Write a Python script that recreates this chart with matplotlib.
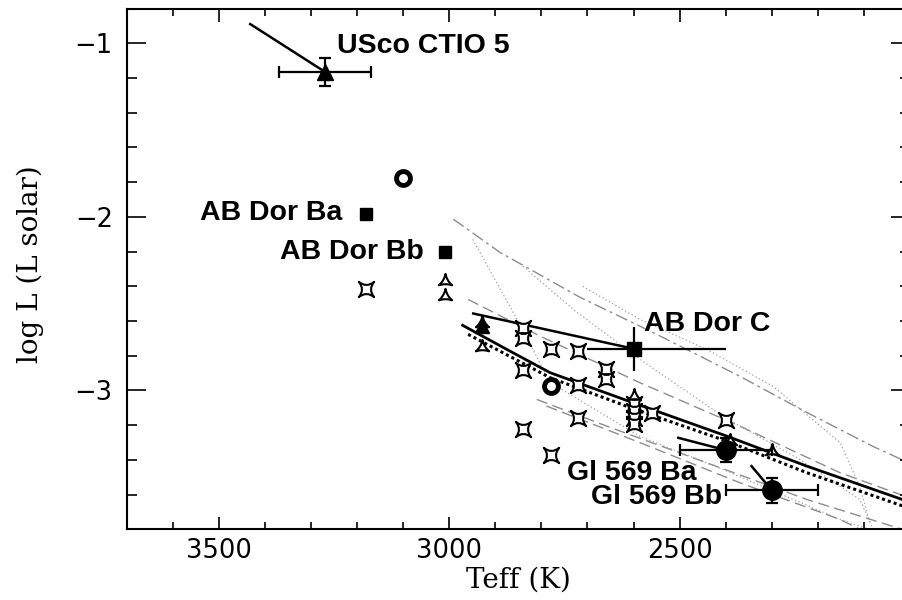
import numpy as np
import matplotlib
matplotlib.use('Agg')
import matplotlib.pyplot as plt
from matplotlib.path import Path
from matplotlib.ticker import MultipleLocator, FixedLocator

# --- objects with error bars (Teff in K, log L in solar units) ---
usco_teff = [3270]
usco_logl = [-1.165]
usco_from = [3432, -0.89]

abdor_b_teff = [3180, 3010]
abdor_b_logl = [-1.986, -2.205]

abdor_c_teff = [2600]
abdor_c_logl = [-2.76]
abdor_c_xerr = [[200], [100]]
abdor_c_yerr = [0.128]
abdor_c_from = [2948, -2.557]

gl569_teff = [2400, 2300]
gl569_logl = [-3.344, -3.575]
gl569_yerr = [0.068, 0.072]
gl569a_from = [2503, -3.273]
gl569b_from = [2344, -3.436]

# --- comparison objects ---
star_teff = [3180, 2840, 2840, 2840, 2840, 2780, 2780, 2720, 2720, 2720,
             2660, 2660, 2600, 2600, 2600, 2600, 2560, 2400]
star_logl = [-2.418, -2.639, -2.696, -2.883, -3.225, -2.764, -3.373, -2.774, -2.969, -3.157,
             -2.875, -2.937, -3.081, -3.119, -3.157, -3.196, -3.129, -3.17]

delt_teff = [3010, 3010, 2930, 2930, 2600, 2390, 2300]
delt_logl = [-2.372, -2.457, -2.61, -2.75, -3.033, -3.292, -3.35]

ring_teff = [3100, 2780]
ring_logl = [-1.774, -2.975]

tri_teff = [2930]
tri_logl = [-2.63]

# --- model tracks ---
solid_teff = [2971, 2875, 2781, 2601, 2398, 2224, 2017, 2000]
solid_logl = [-2.625, -2.764, -2.898, -3.071, -3.263, -3.436, -3.628, -3.642]
bdot_teff = [2959, 2781, 2601, 2398, 2224, 2000]
bdot_logl = [-2.677, -2.927, -3.105, -3.292, -3.474, -3.68]

dashdot_teff = [2991, 2890, 2716, 2558, 2369, 2224, 2080, 2000]
dashdot_logl = [-2.014, -2.205, -2.464, -2.666, -2.919, -3.127, -3.323, -3.42]
dash1_teff = [2959, 2803, 2586, 2369, 2152, 2000]
dash1_logl = [-2.476, -2.687, -2.956, -3.206, -3.474, -3.62]
dash2_teff = [2810, 2658, 2441, 2224, 2017]
dash2_logl = [-3.052, -3.206, -3.417, -3.628, -3.80]
dash3_teff = [2789, 2586, 2369, 2152, 2109]
dash3_logl = [-3.090, -3.301, -3.532, -3.743, -3.80]
dot1_teff = [2949, 2853, 2781, 2586, 2406, 2152, 2090]
dot1_logl = [-2.130, -2.591, -2.954, -3.265, -3.455, -3.743, -3.80]
dot2_teff = [2840, 2731, 2586, 2406, 2239, 2109, 2080]
dot2_logl = [-2.285, -2.533, -2.821, -3.150, -3.398, -3.628, -3.80]
dot3_teff = [2710, 2586, 2441, 2297, 2152, 2109, 2087]
dot3_logl = [-2.401, -2.591, -2.764, -2.977, -3.300, -3.554, -3.761]

xtick_vals = [3500, 3000, 2500]


def cusp_marker(n, ctrl, start):
    # concave star with n cusps (sides curve in toward the centre)
    ang = np.deg2rad(start + 360.0 / n * np.arange(n))
    mid = ang + np.pi / n
    verts = [(np.cos(ang[0]), np.sin(ang[0]))]
    codes = [Path.MOVETO]
    for i in range(n):
        j = (i + 1) % n
        verts.append((ctrl * np.cos(mid[i]), ctrl * np.sin(mid[i])))
        verts.append((np.cos(ang[j]), np.sin(ang[j])))
        codes += [Path.CURVE3, Path.CURVE3]
    verts.append(verts[0])
    codes.append(Path.CLOSEPOLY)
    return Path(verts, codes)


star4 = cusp_marker(4, 0.12, 45)
delt3 = cusp_marker(3, 0.2, 90)

fig = plt.figure(figsize=(9.02, 6.0), dpi=100)
ax = fig.add_axes([0.1405, 0.1178, 0.8684, 0.8667])

gray = '#8c8c8c'
ax.plot(dashdot_teff, dashdot_logl, color=gray, lw=1.0, ls=(0, (9, 3, 2, 3)), zorder=1)
for tt, ll in [(dash1_teff, dash1_logl), (dash2_teff, dash2_logl), (dash3_teff, dash3_logl)]:
    ax.plot(tt, ll, color=gray, lw=1.0, ls=(0, (8, 4)), zorder=1)
for tt, ll in [(dot1_teff, dot1_logl), (dot2_teff, dot2_logl), (dot3_teff, dot3_logl)]:
    ax.plot(tt, ll, color='#a0a0a0', lw=0.9, ls=(0, (1, 2)), zorder=1)

ax.plot(solid_teff, solid_logl, color='k', lw=2.0, zorder=2)
ax.plot(bdot_teff, bdot_logl, color='k', lw=2.2, ls=(0, (1, 1)), zorder=2)

# shift lines
ax.plot([usco_from[0], usco_teff[0]], [usco_from[1], usco_logl[0]], color='k', lw=1.8, zorder=3)
ax.plot([abdor_c_from[0], abdor_c_teff[0]], [abdor_c_from[1], abdor_c_logl[0]], color='k', lw=1.8, zorder=3)
ax.plot([gl569a_from[0], gl569_teff[0]], [gl569a_from[1], gl569_logl[0]], color='k', lw=1.8, zorder=3)
ax.plot([gl569b_from[0], gl569_teff[1]], [gl569b_from[1], gl569_logl[1]], color='k', lw=1.8, zorder=3)

ax.plot(star_teff, star_logl, ls='none', marker=star4, ms=11, mfc='white', mec='k', mew=1.5, zorder=4)
ax.plot(delt_teff, delt_logl, ls='none', marker=delt3, ms=11, mfc='white', mec='k', mew=1.5, zorder=4)
ax.plot(ring_teff, ring_logl, ls='none', marker='o', ms=10, mfc='white', mec='k', mew=3.5, zorder=4)
ax.plot(tri_teff, tri_logl, ls='none', marker='^', ms=10, color='k', zorder=4)

ax.errorbar(usco_teff, usco_logl, xerr=100, yerr=0.08, fmt='^', color='k', ms=12,
            elinewidth=1.6, capsize=4.5, capthick=1.6, zorder=5)
ax.plot(abdor_b_teff, abdor_b_logl, ls='none', marker='s', ms=9, color='k', zorder=5)
ax.errorbar(abdor_c_teff, abdor_c_logl, xerr=abdor_c_xerr, yerr=abdor_c_yerr, fmt='s', color='k',
            ms=10, elinewidth=1.6, capsize=0, zorder=5)
ax.errorbar(gl569_teff, gl569_logl, xerr=100, yerr=gl569_yerr, fmt='o', color='k', ms=14,
            elinewidth=1.6, capsize=4.5, capthick=1.6, zorder=5)

lab = dict(fontfamily='Liberation Sans', fontweight='bold', fontsize=20.5, va='center', zorder=6)
ax.text(3244, -1.016, 'USco CTIO 5', ha='left', **lab)
ax.text(3233, -1.976, 'AB Dor Ba', ha='right', **lab)
ax.text(3056, -2.20, 'AB Dor Bb', ha='right', **lab)
ax.text(2577, -2.62, 'AB Dor C', ha='left', **lab)
ax.text(2463, -3.474, 'Gl 569 Ba', ha='right', **lab)
ax.text(2409, -3.613, 'Gl 569 Bb', ha='right', **lab)

ax.set_xlim(3700, 2000)
ax.set_ylim(-3.8, -0.805)
ax.xaxis.set_major_locator(FixedLocator(xtick_vals))
ax.xaxis.set_minor_locator(MultipleLocator(100))
ax.yaxis.set_major_locator(MultipleLocator(1))
ax.yaxis.set_minor_locator(MultipleLocator(0.2))
ax.tick_params(which='both', direction='in', top=True, right=True, width=1.2, labelsize=18.5)
ax.tick_params(axis='x', which='major', length=9, pad=6)
ax.tick_params(axis='x', which='minor', length=5)
ax.tick_params(axis='y', which='major', length=13.5, pad=10)
ax.tick_params(axis='y', which='minor', length=7)
for s in ax.spines.values():
    s.set_linewidth(1.5)

ax.set_xlabel('Teff (K)', fontfamily='DejaVu Serif', fontsize=20)
ax.set_ylabel('log L (L solar)', fontfamily='DejaVu Serif', fontsize=20)
ax.xaxis.label.set_va('center')
ax.yaxis.label.set_va('center')
ax.xaxis.set_label_coords(0.5, -0.0975)
ax.yaxis.set_label_coords(-0.1234, 0.51)

fig.savefig('out.png', dpi=100)
